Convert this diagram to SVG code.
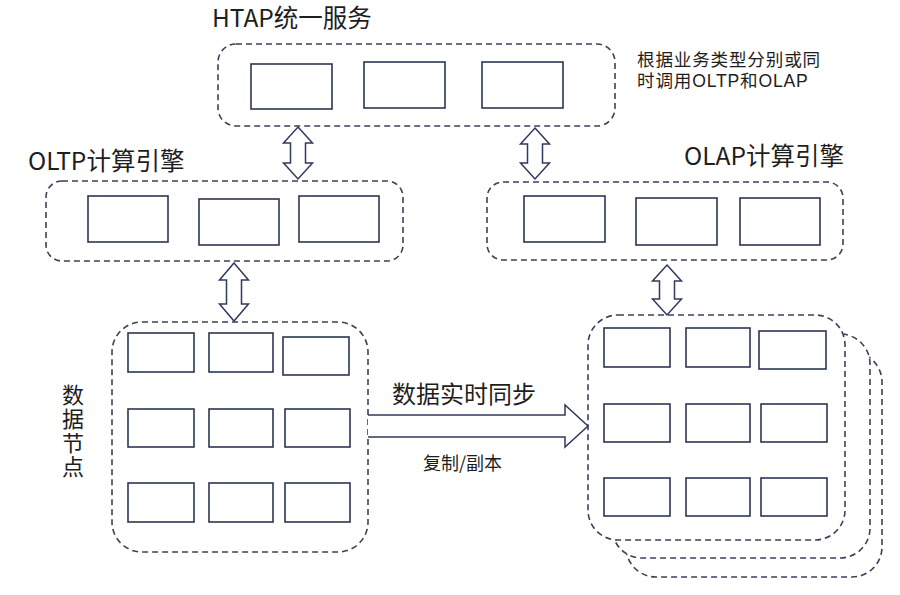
<svg xmlns="http://www.w3.org/2000/svg" width="900" height="595" viewBox="0 0 900 595">
<style>
  .bg{fill:#ffffff}
  .cont{fill:#ffffff;stroke:#3a4258;stroke-width:1.6;stroke-dasharray:6 4}
  .box{fill:#ffffff;stroke:#2b3652;stroke-width:1.6}
  .arr{fill:#ffffff;stroke:#2f3a5c;stroke-width:1.5;stroke-linejoin:miter}
  .t{font-family:"Noto Sans CJK SC","Noto Sans",sans-serif;fill:#1e1e1e}
  .big{font-size:24.5px}
  .sync{font-size:24px}
  .mid{font-family:"Liberation Sans","Noto Sans CJK SC",sans-serif;font-size:17.6px;letter-spacing:0.8px}
  .sm{font-size:18px}
  .vert{font-size:22px;writing-mode:vertical-rl;letter-spacing:2px}
</style>
<rect class="bg" x="0" y="0" width="900" height="595"/>

<g id="htap">
  <rect class="cont" x="218" y="44" width="397" height="82" rx="18"/>
  <rect class="box" x="251" y="64" width="81" height="45"/>
  <rect class="box" x="364" y="62" width="81" height="46"/>
  <rect class="box" x="482" y="62" width="81" height="46"/>
  <text class="t big" x="212" y="27">HTAP统一服务</text>
</g>

<g id="note">
  <text class="t mid"><tspan x="637" y="66">根据业务类型分别或同</tspan><tspan x="637" y="87">时调用OLTP和OLAP</tspan></text>
</g>

<g id="oltp">
  <rect class="cont" x="46" y="181" width="357" height="80" rx="16"/>
  <rect class="box" x="88" y="196" width="80" height="46"/>
  <rect class="box" x="199" y="199" width="80" height="46"/>
  <rect class="box" x="299" y="196" width="80" height="46"/>
  <text class="t big" x="28" y="170">OLTP计算引擎</text>
</g>

<g id="olap">
  <rect class="cont" x="487" y="182" width="356" height="78" rx="16"/>
  <rect class="box" x="524" y="196" width="81" height="46"/>
  <rect class="box" x="636" y="198" width="81" height="47"/>
  <rect class="box" x="740" y="198" width="80" height="47"/>
  <text class="t big" x="684" y="165">OLAP计算引擎</text>
</g>

<g id="datanode">
  <rect class="cont" x="112" y="322" width="256" height="230" rx="30"/>
  <rect class="box" x="128" y="333" width="66" height="39"/>
  <rect class="box" x="209" y="333" width="64" height="39"/>
  <rect class="box" x="283" y="337" width="66" height="38"/>
  <rect class="box" x="128" y="409" width="66" height="38"/>
  <rect class="box" x="209" y="409" width="64" height="38"/>
  <rect class="box" x="285" y="409" width="65" height="38"/>
  <rect class="box" x="128" y="483" width="66" height="39"/>
  <rect class="box" x="209" y="483" width="64" height="39"/>
  <rect class="box" x="285" y="483" width="65" height="39"/>
  <text class="t vert" x="73" y="384">数据节点</text>
</g>

<g id="replica">
  <rect class="cont" x="626" y="352" width="256" height="225" rx="30"/>
  <rect class="cont" x="612" y="334" width="258" height="224" rx="30"/>
  <rect class="cont" x="588" y="315" width="257" height="225" rx="30"/>
  <rect class="box" x="604" y="328" width="66" height="39"/>
  <rect class="box" x="686" y="328" width="64" height="39"/>
  <rect class="box" x="759" y="331" width="67" height="38"/>
  <rect class="box" x="604" y="404" width="66" height="38"/>
  <rect class="box" x="686" y="404" width="64" height="38"/>
  <rect class="box" x="761" y="404" width="66" height="38"/>
  <rect class="box" x="604" y="478" width="66" height="38"/>
  <rect class="box" x="686" y="478" width="64" height="38"/>
  <rect class="box" x="761" y="478" width="66" height="38"/>
</g>

<g id="connectors">
  <path class="arr" d="M298,127 L312.5,143 L305.5,143 L305.5,163 L312.5,163 L298,179 L283.5,163 L290.5,163 L290.5,143 L283.5,143 Z"/>
  <path class="arr" d="M535,128 L549.5,144 L542.5,144 L542.5,163 L549.5,163 L535,179 L520.5,163 L527.5,163 L527.5,144 L520.5,144 Z"/>
  <path class="arr" d="M234,263 L248.5,280 L241.5,280 L241.5,304 L248.5,304 L234,321 L219.5,304 L226.5,304 L226.5,280 L219.5,280 Z"/>
  <path class="arr" d="M667,265 L681.5,281 L674.5,281 L674.5,299 L681.5,299 L667,315 L652.5,299 L659.5,299 L659.5,281 L652.5,281 Z"/>
  <path class="arr" d="M368,415 L565,415 L565,405 L588,426 L565,447 L565,437 L368,437"/>
  <text class="t sync" x="392" y="403">数据实时同步</text>
  <text class="t sm" x="423" y="470">复制/副本</text>
</g>
</svg>
